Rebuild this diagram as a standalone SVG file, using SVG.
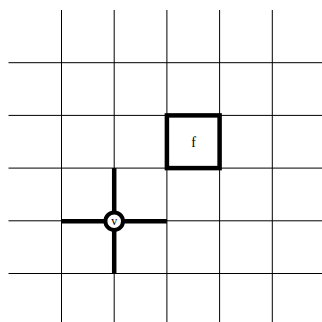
<svg xmlns="http://www.w3.org/2000/svg" width="322" height="322" viewBox="0 0 322 322">
<style>
.grid{stroke:#000;stroke-width:1;fill:none}
.thick{stroke:#000;stroke-width:4.5;fill:none}
.lbl{font-family:"Liberation Serif","DejaVu Serif",serif;fill:#000;text-anchor:middle}
</style>
<rect width="322" height="322" fill="#fff"/>
<g id="grid" class="grid">
<line x1="61.5" y1="10" x2="61.5" y2="322"/>
<line x1="114.2" y1="10" x2="114.2" y2="322"/>
<line x1="166.9" y1="10" x2="166.9" y2="322"/>
<line x1="219.6" y1="10" x2="219.6" y2="322"/>
<line x1="272.3" y1="10" x2="272.3" y2="322"/>
<line x1="8.5" y1="62.7" x2="322" y2="62.7"/>
<line x1="8.5" y1="115.4" x2="322" y2="115.4"/>
<line x1="8.5" y1="168.1" x2="322" y2="168.1"/>
<line x1="8.5" y1="220.8" x2="322" y2="220.8"/>
<line x1="8.5" y1="273.5" x2="322" y2="273.5"/>
</g>
<g id="connectors" class="thick">
<line x1="61.5" y1="221.2" x2="166.9" y2="221.2"/>
<line x1="114.2" y1="168.1" x2="114.2" y2="273.5"/>
</g>
<g id="node-f">
<rect x="166.9" y="115.4" width="52.7" height="52.7" class="thick"/>
<text x="193.5" y="147" class="lbl" font-size="14">f</text>
</g>
<g id="node-v">
<circle cx="114.2" cy="221.2" r="8.8" fill="#fff" stroke="#000" stroke-width="4"/>
<text x="114.2" y="225" class="lbl" font-size="12">v</text>
</g>
</svg>
